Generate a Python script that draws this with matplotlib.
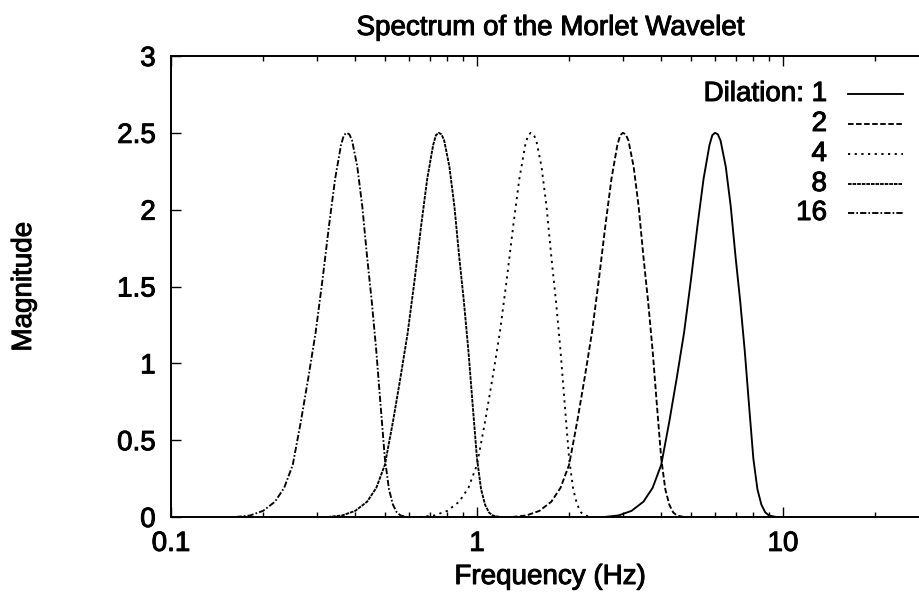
import matplotlib
matplotlib.use("Agg")
import matplotlib.pyplot as plt
import matplotlib.patheffects as pe
from matplotlib.ticker import LogLocator, NullFormatter

plt.rcParams['font.family'] = ['Liberation Sans', 'DejaVu Sans']
plt.rcParams['lines.scale_dashes'] = False

# Spectrum magnitude sampled across each band (same samples for every dilation)
magnitude = [0.0, 0.01, 0.04, 0.10, 0.19, 0.34, 0.62, 0.91, 1.20, 1.54,
             1.89, 2.20, 2.42, 2.485, 2.50, 2.49, 2.45, 2.28, 2.02, 1.69,
             1.40, 1.08, 0.72, 0.38, 0.18, 0.08, 0.03, 0.01, 0.0, 0.0]

freq_d1 = [2.6, 2.9, 3.2, 3.5, 3.75, 4.0, 4.25, 4.5, 4.75, 5.0,
           5.25, 5.5, 5.75, 5.875, 6.0, 6.125, 6.25, 6.5, 6.75, 7.0,
           7.25, 7.5, 7.75, 8.0, 8.25, 8.5, 8.75, 9.0, 9.5, 10.0]
freq_d2 = [1.3, 1.45, 1.6, 1.75, 1.875, 2.0, 2.125, 2.25, 2.375, 2.5,
           2.625, 2.75, 2.875, 2.9375, 3.0, 3.0625, 3.125, 3.25, 3.375, 3.5,
           3.625, 3.75, 3.875, 4.0, 4.125, 4.25, 4.375, 4.5, 4.75, 5.0]
freq_d4 = [0.65, 0.725, 0.8, 0.875, 0.9375, 1.0, 1.0625, 1.125, 1.1875, 1.25,
           1.3125, 1.375, 1.4375, 1.46875, 1.5, 1.53125, 1.5625, 1.625, 1.6875, 1.75,
           1.8125, 1.875, 1.9375, 2.0, 2.0625, 2.125, 2.1875, 2.25, 2.375, 2.5]
freq_d8 = [0.325, 0.3625, 0.4, 0.4375, 0.46875, 0.5, 0.53125, 0.5625, 0.59375, 0.625,
           0.65625, 0.6875, 0.71875, 0.734375, 0.75, 0.765625, 0.78125, 0.8125, 0.84375, 0.875,
           0.90625, 0.9375, 0.96875, 1.0, 1.03125, 1.0625, 1.09375, 1.125, 1.1875, 1.25]
freq_d16 = [0.1625, 0.18125, 0.2, 0.21875, 0.234375, 0.25, 0.265625, 0.28125, 0.296875, 0.3125,
            0.328125, 0.34375, 0.359375, 0.3671875, 0.375, 0.3828125, 0.390625, 0.40625, 0.421875, 0.4375,
            0.453125, 0.46875, 0.484375, 0.5, 0.515625, 0.53125, 0.546875, 0.5625, 0.59375, 0.625]

dilations = [1, 2, 4, 8, 16]
key_labels = ['Dilation: 1', '2', '4', '8', '16']
xtick_values = [0.1, 1, 10]
xtick_labels = ['0.1', '1', '10']
ytick_values = [0, 0.5, 1, 1.5, 2, 2.5, 3]
ytick_labels = ['0', '0.5', '1', '1.5', '2', '2.5', '3']

curves = {1: freq_d1, 2: freq_d2, 4: freq_d4, 8: freq_d8, 16: freq_d16}

# gnuplot-like monochrome line types
dash_styles = {
    1: '-',
    2: (0, (4.0, 1.8)),
    4: (0, (1.6, 3.2)),
    8: (0, (2.6, 0.7)),
    16: (0, (4.5, 1.5, 1.2, 1.5)),
}

FS = 20
LW = 1.35
heavy = [pe.withStroke(linewidth=0.7, foreground='black')]

fig = plt.figure(figsize=(9.2, 5.98), dpi=100)
ax = fig.add_axes([171 / 920, 81 / 598, 758 / 920, 461 / 598])

for d in dilations:
    ax.plot(curves[d], magnitude, color='black', lw=LW, linestyle=dash_styles[d])

ax.set_xscale('log')
ax.set_xlim(0.1, 30)
ax.set_ylim(0, 3)
ax.set_xticks(xtick_values)
ax.set_xticklabels(xtick_labels)
ax.xaxis.set_minor_locator(LogLocator(base=10, subs=range(2, 10)))
ax.xaxis.set_minor_formatter(NullFormatter())
ax.set_yticks(ytick_values)
ax.set_yticklabels(ytick_labels)

ax.tick_params(which='both', direction='in', top=True, right=True, width=1.0)
ax.tick_params(which='major', length=7, labelsize=FS)
ax.tick_params(which='minor', length=3.6)
ax.tick_params(axis='x', which='major', pad=10)
ax.tick_params(axis='y', which='major', pad=11)
for sp in ax.spines.values():
    sp.set_linewidth(1.4)
for t in ax.get_xticklabels() + ax.get_yticklabels():
    t.set_path_effects(heavy)

# key: right-aligned labels with line samples
row_y = [0.9176, 0.8525, 0.7874, 0.7223, 0.6594]
for d, lab, yy in zip(dilations, key_labels, row_y):
    ax.text(0.8654, yy, lab, transform=ax.transAxes, ha='right', va='center',
            fontsize=FS, path_effects=heavy)
    ax.plot([0.893, 0.9657], [yy, yy], transform=ax.transAxes, color='black',
            lw=LW, linestyle=dash_styles[d], clip_on=False)

fig.text(550 / 920, 1 - 28 / 598, 'Spectrum of the Morlet Wavelet', ha='center',
         va='center', fontsize=FS, path_effects=heavy)
fig.text(550 / 920, 1 - 577 / 598, 'Frequency (Hz)', ha='center', va='center',
         fontsize=FS, path_effects=heavy)
fig.text(24 / 920, 1 - 287 / 598, 'Magnitude', ha='center', va='center', rotation=90,
         fontsize=FS, path_effects=heavy)

fig.savefig('out.png', dpi=100)
